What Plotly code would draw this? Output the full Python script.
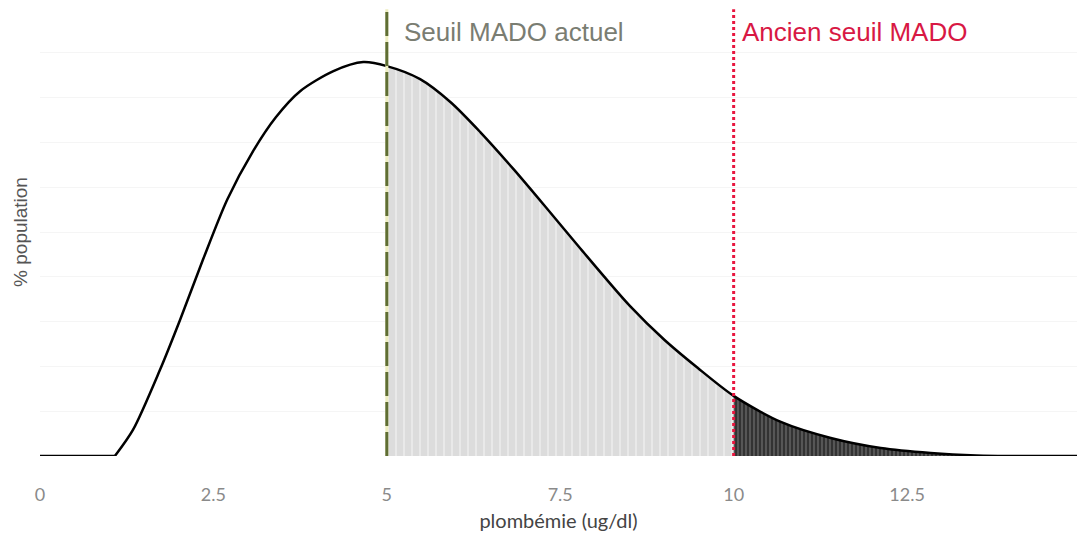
import numpy as np
import plotly.graph_objects as go

# Distribution curve (plombémie in ug/dl vs % population, arbitrary scale)
plomb = [0, 1.08, 1.34, 1.73, 2.02, 2.35, 2.7, 3.07, 3.4, 3.75, 4.23, 4.66, 5.0, 5.48, 5.92,
         6.35, 6.83, 7.32, 7.79, 8.5, 9.0, 9.48, 10.0, 10.68, 11.4, 12.12, 12.84, 13.5, 14.2, 15.0]
population = [0, 0, 1.3, 4.3, 6.8, 9.8, 12.8, 15.2, 16.9, 18.2, 19.2, 19.65, 19.45, 18.8, 17.65,
              16.15, 14.3, 12.3, 10.35, 7.5, 5.8, 4.4, 3.0, 1.7, 0.9, 0.4, 0.15, 0.03, 0, 0]

seuil_actuel = 5
seuil_ancien = 10
debut_courbe = 1.08
tick_vals = [0, 2.5, 5, 7.5, 10, 12.5]
tick_text = ["0", "2.5", "5", "7.5", "10", "12.5"]

x = np.array(plomb)
y = np.array(population)
SM = 0.8

fig = go.Figure()

m1 = (x >= seuil_actuel) & (x <= seuil_ancien)
fig.add_trace(go.Scatter(
    x=x[m1], y=y[m1], mode="lines", line=dict(width=0, shape="spline", smoothing=SM),
    fill="tozeroy", fillcolor="#dcdcdc",
    fillpattern=dict(shape="|", bgcolor="#dcdcdc", fgcolor="#ffffff", size=8, solidity=0.18),
    hoverinfo="skip", showlegend=False))

m2 = x >= seuil_ancien
fig.add_trace(go.Scatter(
    x=x[m2], y=y[m2], mode="lines", line=dict(width=0, shape="spline", smoothing=SM),
    fill="tozeroy", fillcolor="#3c3c3c",
    fillpattern=dict(shape="|", bgcolor="#333333", fgcolor="#a8a8a8", size=4, solidity=0.3),
    hoverinfo="skip", showlegend=False))

# flat part then the smooth curve
m0 = x <= debut_courbe
fig.add_trace(go.Scatter(
    x=x[m0], y=y[m0], mode="lines", line=dict(color="#000000", width=2.5),
    hoverinfo="skip", showlegend=False))
m3 = x >= debut_courbe
fig.add_trace(go.Scatter(
    x=x[m3], y=y[m3], mode="lines", line=dict(color="#000000", width=2.5, shape="spline", smoothing=SM),
    hoverinfo="skip", showlegend=False))

# threshold lines
fig.add_shape(type="line", x0=seuil_actuel, x1=seuil_actuel, y0=0, y1=0.997, yref="paper",
              line=dict(color="#eeeec0", width=3), layer="above")
fig.add_shape(type="line", x0=seuil_actuel, x1=seuil_actuel, y0=0, y1=0.997, yref="paper",
              line=dict(color="#5f6e34", width=3, dash="24px,6px"), layer="above")
fig.add_shape(type="line", x0=seuil_ancien, x1=seuil_ancien, y0=0, y1=0.997, yref="paper",
              line=dict(color="#e8163f", width=3, dash="dot"), layer="above")

fig.add_annotation(x=seuil_actuel, y=0.947, yref="paper", xanchor="left", yanchor="middle",
                   xshift=15, text="Seuil MADO actuel", showarrow=False,
                   font=dict(family="Liberation Sans", size=26, color="#7a7d72"))
fig.add_annotation(x=seuil_ancien, y=0.947, yref="paper", xanchor="left", yanchor="middle",
                   xshift=6, text="Ancien seuil MADO", showarrow=False,
                   font=dict(family="Liberation Sans", size=26, color="#d81844"))

fig.update_layout(
    width=1077, height=539,
    margin=dict(l=40, r=0, t=8, b=83),
    paper_bgcolor="white", plot_bgcolor="white",
    xaxis=dict(range=[0, 14.95], tickvals=tick_vals, ticktext=tick_text,
               showgrid=False, zeroline=False, showline=False, automargin=False,
               ticks="outside", ticklen=22, tickcolor="rgba(0,0,0,0)",
               tickfont=dict(family="Lato", size=18, color="#8a8a8a"),
               title=dict(text="plombémie (ug/dl)", standoff=10,
                          font=dict(family="Lato", size=20, color="#444444"))),
    yaxis=dict(range=[0, 22.35], dtick=2.235, showticklabels=False, automargin=False,
               showgrid=True, gridcolor="#f5f5f5", zeroline=False, showline=False,
               title=dict(text="% population", standoff=6,
                          font=dict(family="Liberation Sans", size=19, color="#555555"))),
)

fig.write_html("out.html", config={"displayModeBar": False},
               post_script="document.body.style.margin='0';")
